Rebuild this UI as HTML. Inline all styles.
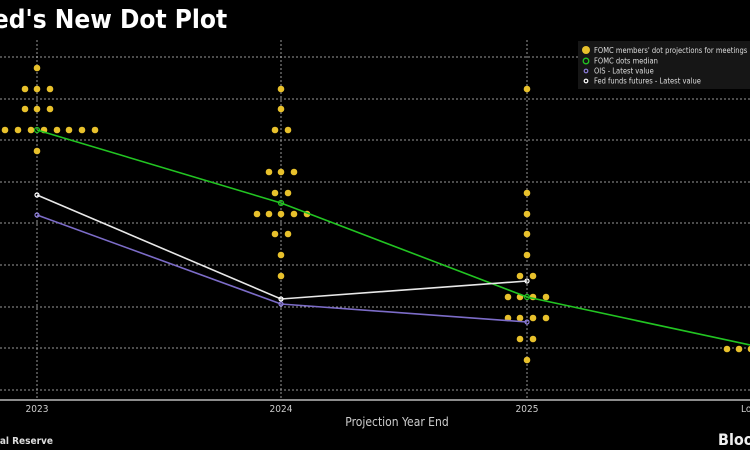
<!DOCTYPE html>
<html><head><meta charset="utf-8"><style>
html,body{margin:0;padding:0;background:#000;}
body{width:750px;height:450px;overflow:hidden;position:relative;font-family:"Liberation Sans","DejaVu Sans",sans-serif;}
</style></head><body>
<svg width="750" height="450" viewBox="0 0 750 450" xmlns="http://www.w3.org/2000/svg" style="position:absolute;left:0;top:0">
<rect width="750" height="450" fill="#000"/>
<text x="-22" y="28" fill="#fff" font-size="26" font-weight="bold" font-family="DejaVu Sans Condensed, DejaVu Sans, sans-serif">Fed's New Dot Plot</text>
<g stroke="#999" stroke-width="1" stroke-dasharray="2,2">
<line x1="0" y1="57" x2="750" y2="57"/><line x1="0" y1="99" x2="750" y2="99"/><line x1="0" y1="140" x2="750" y2="140"/>
<line x1="0" y1="182" x2="750" y2="182"/><line x1="0" y1="223" x2="750" y2="223"/><line x1="0" y1="265" x2="750" y2="265"/>
<line x1="0" y1="307" x2="750" y2="307"/><line x1="0" y1="348" x2="750" y2="348"/><line x1="0" y1="390" x2="750" y2="390"/>
<line x1="37" y1="40" x2="37" y2="400"/><line x1="281" y1="40" x2="281" y2="400"/><line x1="527" y1="40" x2="527" y2="400"/>
</g>
<line x1="0" y1="400" x2="750" y2="400" stroke="#bbb" stroke-width="1.5"/>
<g fill="#e8c12c">
<circle cx="37" cy="68" r="3.3"/>
<circle cx="25" cy="89" r="3.3"/><circle cx="37" cy="89" r="3.3"/><circle cx="50" cy="89" r="3.3"/>
<circle cx="25" cy="109" r="3.3"/><circle cx="37" cy="109" r="3.3"/><circle cx="50" cy="109" r="3.3"/>
<circle cx="5" cy="130" r="3.3"/><circle cx="18" cy="130" r="3.3"/><circle cx="31" cy="130" r="3.3"/><circle cx="44" cy="130" r="3.3"/><circle cx="57" cy="130" r="3.3"/><circle cx="69" cy="130" r="3.3"/><circle cx="82" cy="130" r="3.3"/><circle cx="95" cy="130" r="3.3"/>
<circle cx="37" cy="151" r="3.3"/>
<circle cx="281" cy="89" r="3.3"/><circle cx="281" cy="109" r="3.3"/>
<circle cx="275" cy="130" r="3.3"/><circle cx="288" cy="130" r="3.3"/>
<circle cx="269" cy="172" r="3.3"/><circle cx="281" cy="172" r="3.3"/><circle cx="294" cy="172" r="3.3"/>
<circle cx="275" cy="193" r="3.3"/><circle cx="288" cy="193" r="3.3"/>
<circle cx="257" cy="214" r="3.3"/><circle cx="269" cy="214" r="3.3"/><circle cx="281" cy="214" r="3.3"/><circle cx="294" cy="214" r="3.3"/><circle cx="307" cy="214" r="3.3"/>
<circle cx="275" cy="234" r="3.3"/><circle cx="288" cy="234" r="3.3"/>
<circle cx="281" cy="255" r="3.3"/><circle cx="281" cy="276" r="3.3"/>
<circle cx="527" cy="89" r="3.3"/>
<circle cx="527" cy="193" r="3.3"/><circle cx="527" cy="214" r="3.3"/><circle cx="527" cy="234" r="3.3"/><circle cx="527" cy="255" r="3.3"/>
<circle cx="520" cy="276" r="3.3"/><circle cx="533" cy="276" r="3.3"/>
<circle cx="508" cy="297" r="3.3"/><circle cx="520" cy="297" r="3.3"/><circle cx="533" cy="297" r="3.3"/><circle cx="546" cy="297" r="3.3"/>
<circle cx="508" cy="318" r="3.3"/><circle cx="520" cy="318" r="3.3"/><circle cx="533" cy="318" r="3.3"/><circle cx="546" cy="318" r="3.3"/>
<circle cx="520" cy="339" r="3.3"/><circle cx="533" cy="339" r="3.3"/>
<circle cx="527" cy="360" r="3.3"/>
<circle cx="727" cy="349" r="3.3"/><circle cx="739" cy="349" r="3.3"/><circle cx="751" cy="349" r="3.3"/>
</g>
<polyline points="37,130 281,203 527,297 750,345" fill="none" stroke="#22c422" stroke-width="1.6"/>
<polyline points="37,195 281,299 527,281" fill="none" stroke="#e8e8e8" stroke-width="1.6"/>
<polyline points="37,215 281,304 527,322" fill="none" stroke="#7c6cc8" stroke-width="1.6"/>
<g fill="none" stroke-width="1.2">
<circle cx="37" cy="130" r="2.5" stroke="#22c422"/><circle cx="281" cy="203" r="2.5" stroke="#22c422"/><circle cx="527" cy="297" r="2.5" stroke="#22c422"/>
<circle cx="37" cy="195" r="2" stroke="#fff"/><circle cx="281" cy="299" r="2" stroke="#fff"/><circle cx="527" cy="281" r="2" stroke="#fff"/>
<circle cx="37" cy="215" r="2" stroke="#8c7cd8"/><circle cx="281" cy="304" r="2" stroke="#8c7cd8"/><circle cx="527" cy="322" r="2" stroke="#8c7cd8"/>
</g>
<rect x="578" y="41" width="172" height="48" fill="#161616"/>
<circle cx="586" cy="50" r="4" fill="#e8c12c"/>
<circle cx="586" cy="61" r="2.8" fill="none" stroke="#22c422" stroke-width="1.3"/>
<circle cx="586" cy="71" r="1.8" fill="none" stroke="#8c7cd8" stroke-width="1.2"/>
<circle cx="586" cy="81" r="1.8" fill="none" stroke="#fff" stroke-width="1.2"/>
<g fill="#ddd" font-size="7.5" font-family="DejaVu Sans Condensed, DejaVu Sans, sans-serif">
<text x="594" y="53">FOMC members' dot projections for meetings</text>
<text x="594" y="63.5">FOMC dots median</text>
<text x="594" y="73.5">OIS - Latest value</text>
<text x="594" y="83.5">Fed funds futures - Latest value</text>
</g>
<g fill="#ccc" font-size="10" font-family="DejaVu Sans Condensed, DejaVu Sans, sans-serif" text-anchor="middle">
<text x="37" y="412">2023</text><text x="281" y="412">2024</text><text x="527" y="412">2025</text><text x="741" y="412" text-anchor="start">Longer run</text>
</g>
<text x="397" y="426" fill="#ccc" font-size="12" text-anchor="middle" font-family="DejaVu Sans Condensed, DejaVu Sans, sans-serif">Projection Year End</text>
<text x="-29" y="444" fill="#ddd" font-size="10" font-weight="bold" font-family="DejaVu Sans Condensed, DejaVu Sans, sans-serif">Federal Reserve</text>
<text x="718" y="445" fill="#eee" font-size="16" font-weight="bold" font-family="DejaVu Sans Condensed, DejaVu Sans, sans-serif">Bloomberg</text>
</svg>
</body></html>
